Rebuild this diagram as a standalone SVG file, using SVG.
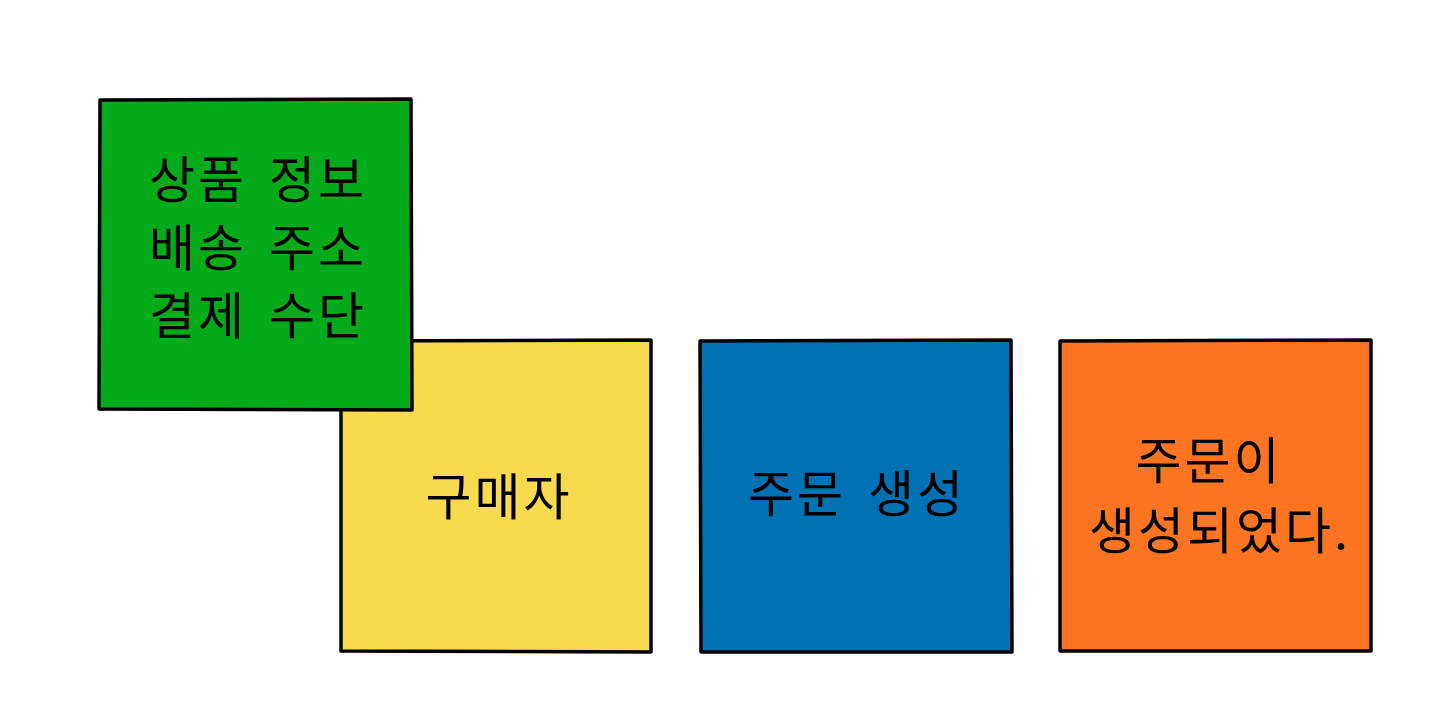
<svg xmlns="http://www.w3.org/2000/svg" width="1440" height="720" viewBox="0 0 1440 720">
<style>
.box{stroke:#000;stroke-width:3.5;stroke-linejoin:round}
.t{font-family:"Noto Sans CJK KR","Noto Sans",sans-serif;font-size:50px;font-weight:400;fill:#000;text-anchor:middle;dominant-baseline:central;letter-spacing:3px;word-spacing:8px}
</style>
<rect width="1440" height="720" fill="#fff"/>
<g id="buyer">
<path class="box" fill="#f7da4d" d="M341 341 L651 340 L651 652 L341 651 Z"/>
<text class="t" x="499" y="493">구매자</text>
</g>
<g id="info">
<path class="box" fill="#03ab1a" d="M100 100 L411 99 L412 410 L99 409 Z"/>
<text class="t" x="258" y="176">상품 정보</text>
<text class="t" x="258" y="244">배송 주소</text>
<text class="t" x="258" y="312">결제 수단</text>
</g>
<g id="command">
<path class="box" fill="#0071b3" d="M700 341 L1011 340 L1012 652 L701 652 Z"/>
<text class="t" x="857" y="490">주문 생성</text>
</g>
<g id="event">
<path class="box" fill="#fd7521" d="M1060 341 L1371 340 L1371 651 L1060 651 Z"/>
<text class="t" x="1209" y="457">주문이</text>
<text class="t" x="1220" y="527">생성되었다.</text>
</g>
<g id="connectors"/>
</svg>
